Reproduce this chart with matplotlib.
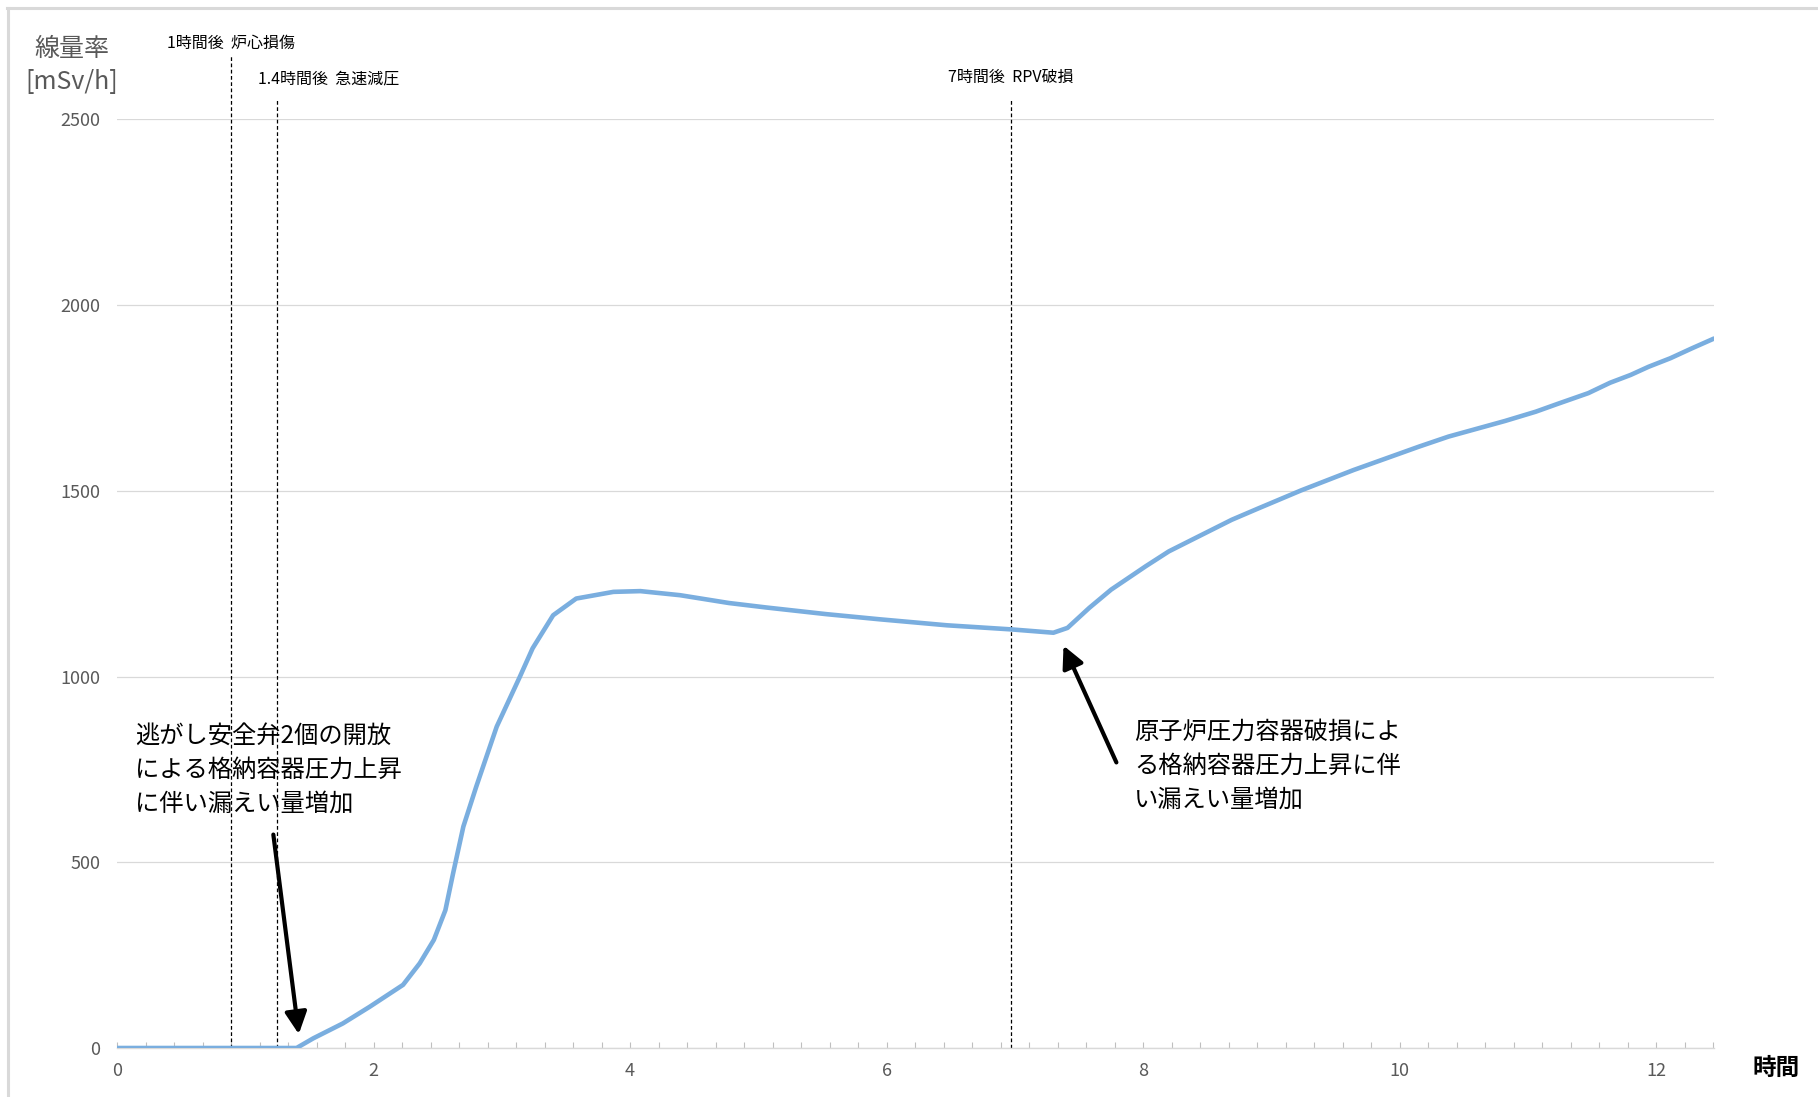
import numpy as np
import matplotlib
matplotlib.use("Agg")
import matplotlib.pyplot as plt
from matplotlib.lines import Line2D
from matplotlib.ticker import MultipleLocator

plt.rcParams['font.family'] = ['Noto Sans CJK JP', 'DejaVu Sans']

# 経過時間 [h] と 線量率 [mSv/h]
hours = [0, 1.40, 1.53, 1.76, 1.97, 2.23, 2.36, 2.47, 2.56, 2.62, 2.70, 2.80,
         2.96, 3.14, 3.24, 3.40, 3.58, 3.87, 4.08, 4.39, 4.77, 5.06, 5.53,
         5.95, 6.47, 6.97, 7.30, 7.41, 7.58, 7.75, 8.02, 8.20, 8.39, 8.69,
         8.90, 9.23, 9.64, 10.15, 10.38, 10.82, 11.06, 11.23, 11.47, 11.64,
         11.80, 11.94, 12.11, 12.28, 12.45]
dose_rate = [0, 0, 26, 66, 111, 170, 228, 291, 371, 470, 596, 703,
             865, 999, 1076, 1165, 1210, 1228, 1230, 1219, 1198, 1186, 1168,
             1154, 1138, 1127, 1118, 1131, 1185, 1234, 1297, 1337, 1370, 1422,
             1453, 1501, 1556, 1619, 1646, 1688, 1713, 1734, 1763, 1791,
             1812, 1834, 1857, 1884, 1910]

# イベント線
event_x = [0.885, 1.247, 6.97]
event_top = [2670, 2557, 2554]
event_labels = ['1時間後  炉心損傷', '1.4時間後  急速減圧', '7時間後  RPV破損']

y_ticks = [0, 500, 1000, 1500, 2000, 2500]
x_ticks = [0, 2, 4, 6, 8, 10, 12]

note1 = '逃がし安全弁2個の開放\nによる格納容器圧力上昇\nに伴い漏えい量増加'
note2 = '原子炉圧力容器破損によ\nる格納容器圧力上昇に伴\nい漏えい量増加'

fig = plt.figure(figsize=(18.18, 10.97), dpi=100)
ax = fig.add_axes([0.06436, 0.04467, 0.87844, 0.8465])

ax.plot(hours, dose_rate, color='#7aaedf', lw=3.3, solid_capstyle='round', zorder=3)

ax.set_xlim(0, 12.45)
ax.set_ylim(0, 2500)
ax.set_yticks(y_ticks)
ax.set_xticks(x_ticks)
ax.xaxis.set_minor_locator(MultipleLocator(2 / 9))
ax.grid(axis='y', color='#d9d9d9', lw=0.9)
ax.set_axisbelow(True)

for s in ['top', 'right', 'left']:
    ax.spines[s].set_visible(False)
ax.spines['bottom'].set_color('#d9d9d9')
ax.spines['bottom'].set_linewidth(1.0)

ax.tick_params(axis='y', length=0, pad=12, labelsize=13, labelcolor='#595959')
ax.tick_params(axis='x', which='both', direction='in', length=4.5,
               color='#bfbfbf', width=0.8)
ax.tick_params(axis='x', which='major', pad=10, labelsize=13, labelcolor='#595959')

# イベントの破線とラベル
for x, top in zip(event_x, event_top):
    ax.plot([x, x], [0, top], color='black', lw=0.9, ls=(0, (3, 2)),
            clip_on=False, zorder=2)
ax.text(event_x[0], 2705, event_labels[0], ha='center', va='center',
        fontsize=11.5, clip_on=False)
ax.text(event_x[1] - 0.145, 2608, event_labels[1], ha='left', va='center',
        fontsize=11.5, clip_on=False)
ax.text(event_x[2], 2613, event_labels[2], ha='center', va='center',
        fontsize=11.5, clip_on=False)

# 注記と矢印
ax.text(0.14, 750, note1, ha='left', va='center', fontsize=17.5,
        linespacing=1.4)
ax.text(7.93, 760, note2, ha='left', va='center', fontsize=17.5,
        linespacing=1.4)
arrow = dict(arrowstyle='-|>,head_length=0.6,head_width=0.3',
             mutation_scale=22, color='black', lw=3)
ax.annotate('', xy=(1.42, 30), xytext=(1.216, 582), arrowprops=arrow)
ax.annotate('', xy=(7.37, 1090), xytext=(7.80, 762), arrowprops=arrow)

# 軸タイトル
fig.text(72 / 1818, 1 - 65 / 1097, '線量率\n[mSv/h]', ha='center', va='center',
         fontsize=18, color='#595959', linespacing=1.35)
fig.text(1776 / 1818, 1 - 1068 / 1097, '時間', ha='center', va='center',
         fontsize=17, fontweight='bold', color='black')

# 外枠（上と左）
fig.add_artist(Line2D([7 / 1818, 1], [1 - 8 / 1097, 1 - 8 / 1097],
                      color='#d9d9d9', lw=2.2, transform=fig.transFigure))
fig.add_artist(Line2D([8 / 1818, 8 / 1818], [0, 1 - 8 / 1097],
                      color='#d9d9d9', lw=2.2, transform=fig.transFigure))

fig.savefig('out.png', dpi=100, facecolor='white')
